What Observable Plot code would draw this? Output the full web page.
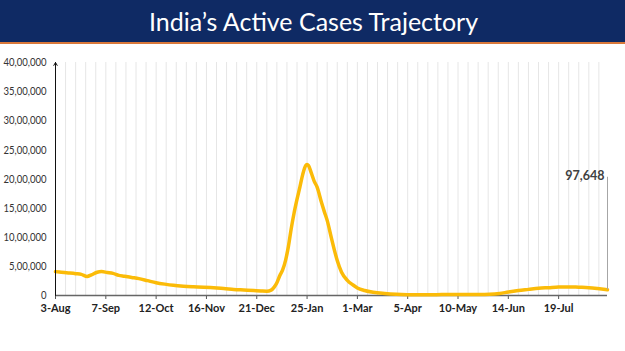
<!DOCTYPE html>
<html>
<head>
<meta charset="utf-8">
<script src="https://cdn.jsdelivr.net/npm/d3@7"></script>
<script src="https://cdn.jsdelivr.net/npm/@observablehq/plot@0.6"></script>
<style>
  html, body { margin: 0; padding: 0; background: #fff; }
  body { width: 625px; height: 351px; overflow: hidden; }
  #title {
    height: 42px; background: #0f2a64; color: #fff;
    border-bottom: 2px solid #d9783a;
    font-family: Lato, "Open Sans", sans-serif; font-size: 25px;
    display: flex; align-items: center; justify-content: center;
    box-sizing: content-box; padding-left: 2px;
  }
  #chart svg { display: block; }
</style>
</head>
<body>
<div id="title">India’s Active Cases Trajectory</div>
<div id="chart"></div>
<script>
// Active cases (in lakh)
const dates = [
  "2021-08-03","2021-08-07","2021-08-12","2021-08-17","2021-08-21","2021-08-25","2021-08-28",
  "2021-09-01","2021-09-04","2021-09-08","2021-09-12","2021-09-16","2021-09-20","2021-09-25","2021-09-30",
  "2021-10-06","2021-10-12","2021-10-18","2021-10-24","2021-10-31",
  "2021-11-07","2021-11-14","2021-11-21","2021-11-28",
  "2021-12-05","2021-12-12","2021-12-19","2021-12-24","2021-12-28","2021-12-31",
  "2022-01-02","2022-01-04","2022-01-06","2022-01-08","2022-01-10","2022-01-12","2022-01-14","2022-01-16",
  "2022-01-18","2022-01-20","2022-01-22","2022-01-24","2022-01-25","2022-01-26","2022-01-28","2022-01-30",
  "2022-02-01","2022-02-04","2022-02-06","2022-02-08","2022-02-11","2022-02-13","2022-02-15","2022-02-18",
  "2022-02-22","2022-02-26","2022-03-01","2022-03-06","2022-03-12","2022-03-20","2022-03-28",
  "2022-04-05","2022-04-15","2022-04-25","2022-05-05","2022-05-15","2022-05-25",
  "2022-06-01","2022-06-08","2022-06-14","2022-06-21","2022-06-28",
  "2022-07-05","2022-07-12","2022-07-19","2022-07-26","2022-08-02","2022-08-09","2022-08-15","2022-08-22"
];
const activeLakh = [
  4.10,4.00,3.88,3.75,3.62,3.28,3.55,
  4.00,4.10,3.95,3.80,3.45,3.30,3.10,2.90,
  2.55,2.20,1.95,1.75,1.60,
  1.50,1.42,1.32,1.22,
  1.05,0.95,0.85,0.78,0.74,0.92,
  1.40,2.20,3.40,4.40,6.00,8.40,11.5,14.2,
  16.5,18.6,20.8,22.3,22.5,22.3,21.0,19.6,
  18.6,16.0,14.4,12.9,9.8,7.8,6.0,4.0,
  2.6,1.8,1.3,0.85,0.55,0.35,0.22,
  0.15,0.12,0.15,0.19,0.18,0.16,
  0.20,0.35,0.60,0.85,1.05,
  1.25,1.35,1.45,1.48,1.42,1.35,1.20,0.97648
];
const yTicks = [0,500000,1000000,1500000,2000000,2500000,3000000,3500000,4000000];
const xTickLabels = ["2021-08-03","2021-09-07","2021-10-12","2021-11-16","2021-12-21","2022-01-25",
                     "2022-03-01","2022-04-05","2022-05-10","2022-06-14","2022-07-19"];
const lastLabel = "97,648";

const data = dates.map((d, i) => ({date: new Date(d + "T00:00:00Z"), value: Math.round(activeLakh[i] * 100000)}));
const start = data[0].date, end = data[data.length - 1].date;
const last = data[data.length - 1];
const weekly = d3.utcDay.every(1).range(start, d3.utcDay.offset(end, 1)).filter((d, i) => i % 7 === 0);
const xTicks = xTickLabels.map(d => new Date(d + "T00:00:00Z"));

function inr(n) {
  const s = String(Math.round(n));
  if (s.length <= 3) return s;
  const lastThree = s.slice(-3);
  let rest = s.slice(0, -3);
  rest = rest.replace(/\B(?=(\d{2})+(?!\d))/g, ",");
  return rest + "," + lastThree;
}

const labelLevel = 2030000;

const chart = Plot.plot({
  width: 625,
  height: 307,
  marginLeft: 55,
  marginRight: 18,
  marginTop: 18,
  marginBottom: 56,
  style: {fontFamily: "Lato, 'Open Sans', sans-serif", fontSize: "11px", color: "#333", background: "#fff"},
  x: {type: "utc", domain: [start, end]},
  y: {domain: [0, 4000000]},
  marks: [
    Plot.ruleX(weekly, {stroke: "#e6e6e6", strokeWidth: 1}),
    Plot.axisY(yTicks, {tickSize: 0, tickPadding: 9, tickFormat: inr, fill: "#333", fontSize: 11.5, label: null}),
    Plot.axisX(xTicks, {tickSize: 4, tickPadding: 5, tickFormat: d3.utcFormat("%-d-%b"), fontWeight: "bold", fill: "#222", stroke: "#555", fontSize: 11, label: null}),
    Plot.ruleY([0], {stroke: "#666", strokeWidth: 1.5}),
    Plot.line(data, {x: "date", y: "value", stroke: "#fbbb08", strokeWidth: 3.5, curve: "monotone-x"}),
    Plot.ruleX([last], {x: "date", y1: "value", y2: () => labelLevel, stroke: "#a6a6a6", strokeWidth: 1}),
    Plot.text([last], {x: "date", y: () => labelLevel, text: () => lastLabel, textAnchor: "end", dx: -3, dy: -1, fontWeight: "bold", fontSize: 12.5, fill: "#404040"}),
    Plot.arrow([0], {x1: () => start, x2: () => start, y1: () => 0, y2: () => 4000000, stroke: "#111", strokeWidth: 1, headLength: 5, insetEnd: 0, insetStart: 0})
  ]
});
document.getElementById("chart").append(chart);

// Condense the y tick labels horizontally so the widest fits the left margin (like a narrow font)
const yLabelGroup = chart.querySelector('g[aria-label="y-axis tick label"]');
if (yLabelGroup) {
  const texts = Array.from(yLabelGroup.querySelectorAll("text"));
  const widths = texts.map(t => t.getComputedTextLength());
  const maxW = Math.max(...widths);
  const target = 43;
  if (maxW > target) {
    const k = target / maxW;
    texts.forEach((t, i) => {
      t.setAttribute("textLength", (widths[i] * k).toFixed(2));
      t.setAttribute("lengthAdjust", "spacingAndGlyphs");
    });
  }
}
</script>
</body>
</html>
